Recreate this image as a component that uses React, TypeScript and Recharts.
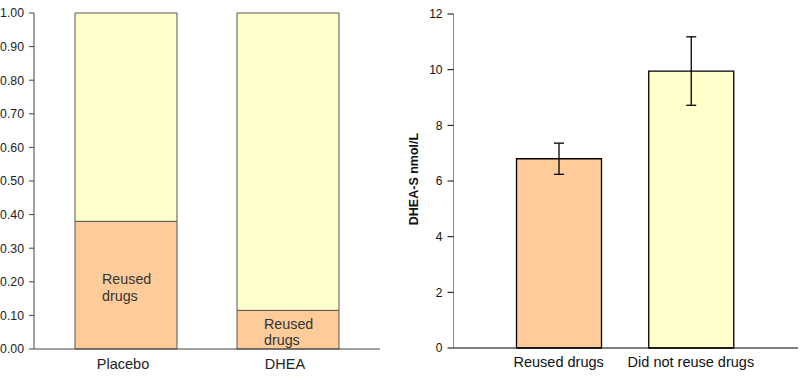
import React from "react";
import {
  BarChart, Bar, XAxis, YAxis, Cell, ErrorBar, LabelList,
} from "recharts";

// left panel: share of patients who reused drugs, stacked to 1.00
const treatments = ["Placebo", "DHEA"];
const reusedShare = [0.38, 0.115];
const notReusedShare = [0.62, 0.885];
const shareTicks = [0, 0.1, 0.2, 0.3, 0.4, 0.5, 0.6, 0.7, 0.8, 0.9, 1.0];

// right panel: DHEA-S level by outcome
const outcomes = ["Reused drugs", "Did not reuse drugs"];
const dheasMean = [6.8, 9.95];
const dheasErr = [0.56, 1.23];
const dheasTicks = [0, 2, 4, 6, 8, 10, 12];

const ORANGE = "#FFCC99";
const YELLOW = "#FFFFCC";
const FONT = '"Liberation Sans", Arial, sans-serif';

const leftData = treatments.map((t, i) => ({
  name: t,
  reused: reusedShare[i],
  rest: notReusedShare[i],
}));

const rightData = outcomes.map((o, i) => ({
  name: o,
  mean: dheasMean[i],
  err: dheasErr[i],
}));

const InsideLabel = (props: any) => {
  const { x, y, width, height } = props;
  const cx = x + width / 2 - 24;
  const cy = y + height / 2;
  return (
    <g fill="#333" fontSize={14.3} fontFamily={FONT}>
      <text x={cx} y={cy - 1}>Reused</text>
      <text x={cx} y={cy + 15.5}>drugs</text>
    </g>
  );
};

function ShareChart() {
  return (
    <BarChart
      width={400}
      height={384}
      data={leftData}
      margin={{ top: 13, right: 20, bottom: 5, left: 0 }}
      barSize={102}
    >
      <XAxis
        dataKey="name"
        padding={{ left: 11, right: 11 }}
        height={30}
        tickLine={false}
        tickMargin={4}
        axisLine={{ stroke: "#444" }}
        tick={{ fill: "#222", fontSize: 14.5, fontFamily: FONT, dx: -3 }}
      />
      <XAxis xAxisId="top" dataKey="name" orientation="top" height={0} tick={false} tickLine={false} axisLine={{ stroke: "#666" }} />
      <YAxis
        domain={[0, 1]}
        ticks={shareTicks}
        interval={0}
        width={34}
        tickSize={5}
        tickMargin={5}
        tickFormatter={(v: number) => v.toFixed(2)}
        axisLine={{ stroke: "#444" }}
        tickLine={{ stroke: "#444" }}
        tick={{ fill: "#222", fontSize: 12.3, fontFamily: FONT }}
      />
      <YAxis yAxisId="right" orientation="right" width={0} tick={false} tickLine={false} axisLine={{ stroke: "#777" }} />
      <Bar dataKey="reused" stackId="a" fill={ORANGE} stroke="#555" strokeWidth={1} isAnimationActive={false}>
        <LabelList dataKey="reused" content={<InsideLabel />} />
      </Bar>
      <Bar dataKey="rest" stackId="a" fill={YELLOW} stroke="#555" strokeWidth={1} isAnimationActive={false} />
    </BarChart>
  );
}

function LevelChart() {
  return (
    <BarChart
      width={400}
      height={384}
      data={rightData}
      margin={{ top: 14, right: 2, bottom: 6, left: 0 }}
      barSize={85}
    >
      <XAxis
        dataKey="name"
        padding={{ left: 39, right: 41 }}
        height={30}
        tickLine={false}
        tickMargin={3}
        axisLine={{ stroke: "#000" }}
        tick={{ fill: "#111", fontSize: 14.5, fontFamily: FONT }}
      />
      <XAxis xAxisId="top" dataKey="name" orientation="top" height={0} tick={false} tickLine={false} axisLine={{ stroke: "#000" }} />
      <YAxis
        domain={[0, 12]}
        ticks={dheasTicks}
        interval={0}
        width={53.5}
        tickSize={6}
        tickMargin={5}
        axisLine={{ stroke: "#888" }}
        tickLine={{ stroke: "#000" }}
        tick={{ fill: "#111", fontSize: 12, fontFamily: FONT }}
      />
      <YAxis yAxisId="right" orientation="right" width={0} tick={false} tickLine={false} axisLine={{ stroke: "#000" }} />
      <Bar dataKey="mean" stroke="#000" strokeWidth={1.3} isAnimationActive={false}>
        {rightData.map((_, i) => (
          <Cell key={i} fill={i === 0 ? ORANGE : YELLOW} />
        ))}
        <ErrorBar dataKey="err" width={5} stroke="#000" strokeWidth={1.3} />
      </Bar>
    </BarChart>
  );
}

export default function App() {
  return (
    <div style={{ position: "absolute", left: 0, top: 0, width: 800, height: 384, background: "#fff", fontFamily: FONT }}>
      <div style={{ position: "absolute", left: 0, top: 0 }}>
        <ShareChart />
      </div>
      <div style={{ position: "absolute", left: 400, top: 0 }}>
        <LevelChart />
      </div>
      <div
        style={{
          position: "absolute",
          left: 414,
          top: 179,
          transform: "translate(-50%, -50%) rotate(-90deg)",
          whiteSpace: "nowrap",
          fontSize: 12.5,
          fontWeight: "bold",
          color: "#111",
          lineHeight: 1,
        }}
      >
        DHEA-S nmol/L
      </div>
    </div>
  );
}
